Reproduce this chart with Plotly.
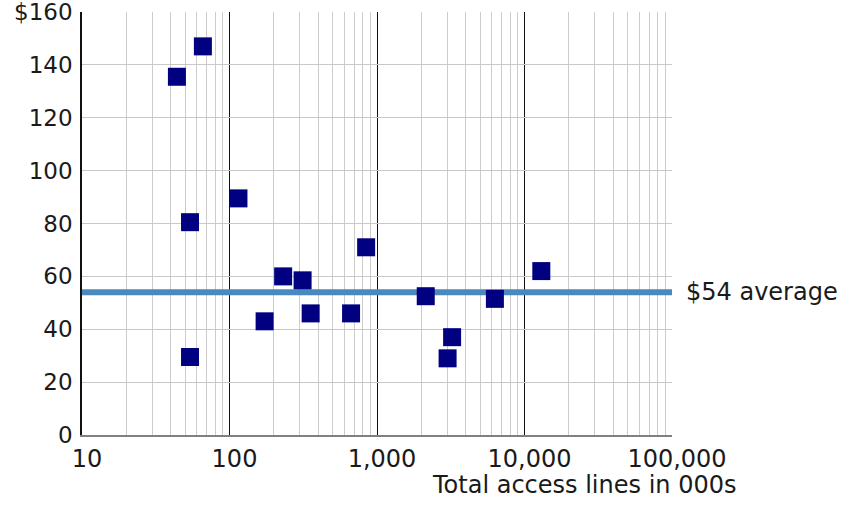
import plotly.graph_objects as go

# Total access lines (thousands) and monthly cost per line (USD)
access_lines = [44, 66, 54, 115, 54, 231, 313, 173, 355, 667, 844, 2140, 13000, 6300, 3230, 3010]
cost_per_line = [135.5, 147, 80.5, 89.5, 29.5, 60, 58.5, 43, 46, 46, 71, 52.5, 62, 51.5, 37, 29]
average_cost = 54

x_tick_vals = [10, 100, 1000, 10000, 100000]
x_tick_text = ["10", "100", "1,000", "10,000", "100,000"]
y_tick_vals = [0, 20, 40, 60, 80, 100, 120, 140, 160]
y_tick_text = ["0", "20", "40", "60", "80", "100", "120", "140", "$160"]
x_title = "Total access lines in 000s"

minor_vals = [m * 10 ** d for d in range(1, 5) for m in range(2, 10)]

FONT = "DejaVu Sans, Verdana, sans-serif"
TEXT = "#1a1a1a"

fig = go.Figure()

# horizontal line at the average cost
fig.add_trace(go.Scatter(
    x=[x_tick_vals[0], x_tick_vals[-1]],
    y=[average_cost, average_cost],
    mode="lines",
    line=dict(color="#4a88c0", width=6),
    hoverinfo="skip",
    showlegend=False,
))

fig.add_trace(go.Scatter(
    x=access_lines,
    y=cost_per_line,
    mode="markers",
    marker=dict(symbol="square", size=18, color="#000080", line=dict(width=0)),
    showlegend=False,
))

fig.add_annotation(
    x=1, xref="paper", xanchor="left", xshift=12,
    y=average_cost, yref="y", yanchor="middle",
    text=f"${average_cost} average",
    showarrow=False,
    font=dict(family=FONT, size=24, color=TEXT),
)

# axis title, right-aligned under the last tick label
fig.add_annotation(
    x=1, xref="paper", xanchor="right", xshift=66,
    y=0, yref="paper", yanchor="top", yshift=-34,
    text=x_title,
    showarrow=False,
    font=dict(family=FONT, size=24, color=TEXT),
)

fig.update_xaxes(
    type="log",
    range=[1, 5],
    tickvals=x_tick_vals,
    ticktext=x_tick_text,
    ticks="",
    ticklabelshift=5,
    ticklabelstandoff=1,
    ticklabeloverflow="allow",
    showgrid=True,
    gridcolor="#111111",
    gridwidth=1,
    minor=dict(tickvals=minor_vals, showgrid=True, gridcolor="#cccccc", gridwidth=1, ticks=""),
    showline=True,
    linecolor="#808080",
    linewidth=2,
    zeroline=False,
    automargin=False,
    tickfont=dict(family=FONT, size=24, color=TEXT),
)

fig.update_yaxes(
    range=[0, 160],
    tickvals=y_tick_vals,
    ticktext=y_tick_text,
    ticks="",
    ticklabelstandoff=3,
    ticklabeloverflow="allow",
    showgrid=True,
    gridcolor="#c8c8c8",
    gridwidth=1,
    showline=True,
    linecolor="#111111",
    linewidth=1.5,
    zeroline=False,
    automargin=False,
    tickfont=dict(family=FONT, size=23, color=TEXT),
)

fig.update_layout(
    width=847,
    height=506,
    margin=dict(l=82, r=175, t=12, b=71),
    plot_bgcolor="white",
    paper_bgcolor="white",
    font=dict(family=FONT, color=TEXT),
)

fig.write_html("out.html")
